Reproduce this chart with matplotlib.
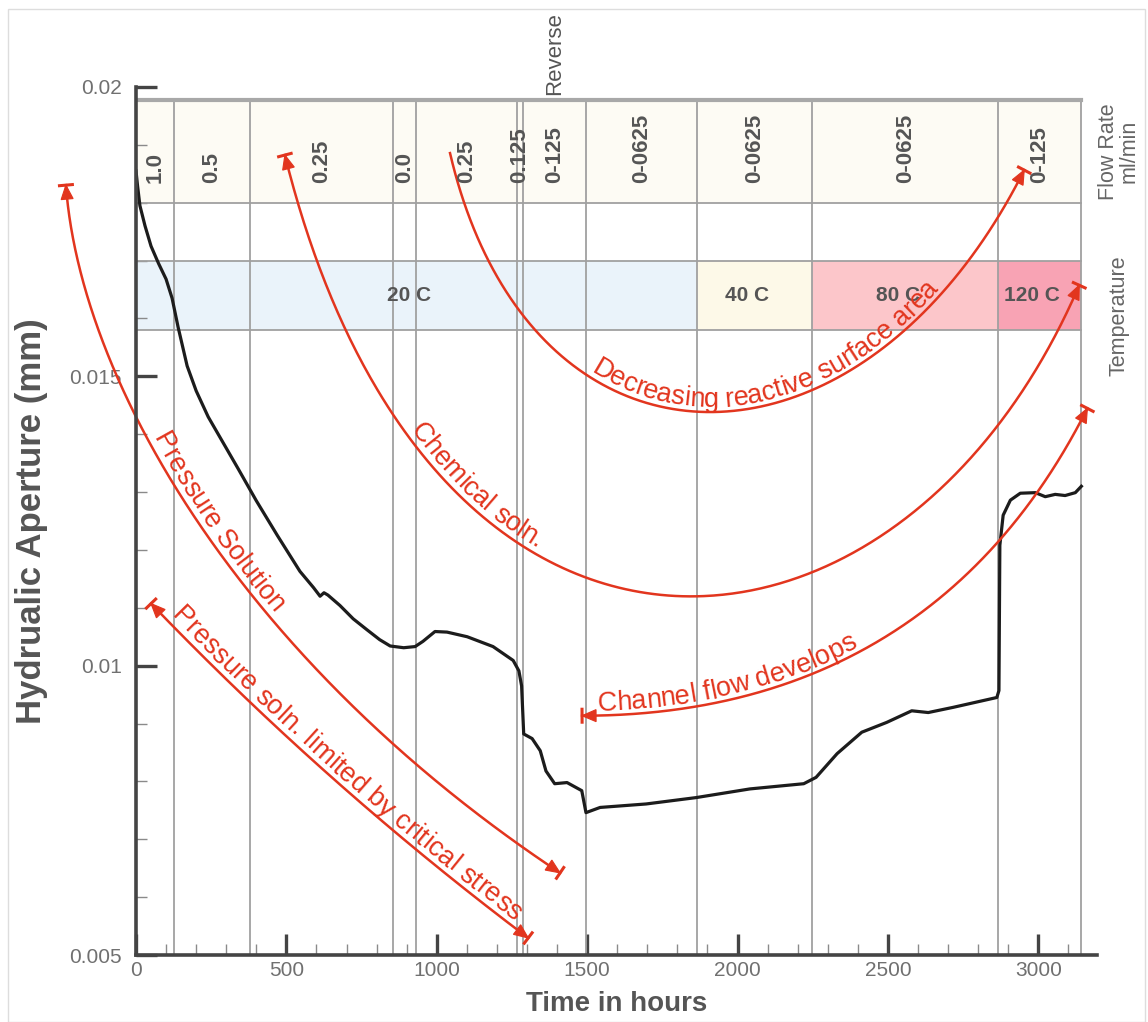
import matplotlib
matplotlib.use("Agg")
import matplotlib.pyplot as plt
import numpy as np
from matplotlib.patches import Rectangle, Polygon
from matplotlib.font_manager import FontProperties
from matplotlib.ticker import MultipleLocator, FixedLocator, FixedFormatter

plt.rcParams["font.family"] = ["Liberation Sans", "DejaVu Sans"]

# hydraulic aperture record (hours, mm)
hours = [0, 5, 13, 30, 50, 75, 100, 120, 140, 170, 200, 240, 290, 340, 400,
         470, 545, 590, 612, 625, 638, 678, 722, 768, 810, 845, 890, 928, 954,
         994, 1034, 1101, 1187, 1254, 1273, 1282, 1289, 1317, 1344, 1363, 1392,
         1433, 1482, 1496, 1543, 1696, 1862, 2041, 2220, 2261, 2331, 2413,
         2496, 2579, 2634, 2717, 2862, 2869, 2872, 2883, 2907, 2940, 2990,
         3023, 3056, 3089, 3123, 3143]
aperture = [0.01855, 0.01830, 0.01795, 0.01760, 0.01725, 0.01695, 0.01668,
            0.01635, 0.01585, 0.01518, 0.01475, 0.01430, 0.01385, 0.01340,
            0.01285, 0.01225, 0.01163, 0.01135, 0.01120, 0.01126, 0.01122,
            0.01104, 0.01081, 0.01062, 0.01045, 0.01034, 0.01031, 0.01033,
            0.01042, 0.01059, 0.01058, 0.01050, 0.01033, 0.01009, 0.00991,
            0.00965, 0.00882, 0.00874, 0.00853, 0.00818, 0.00796, 0.00798,
            0.00784, 0.00746, 0.00755, 0.00761, 0.00772, 0.00787, 0.00796,
            0.00807, 0.00848, 0.00885, 0.00902, 0.00922, 0.00919, 0.00928,
            0.00945, 0.00957, 0.01208, 0.01260, 0.01286, 0.01298, 0.01299,
            0.01292, 0.01296, 0.01294, 0.01299, 0.01310]

# flow-rate schedule, ml/min
flow_edges = [0, 126, 379, 855, 931, 1267, 1287, 1496, 1866, 2248, 2867, 3143]
flow_labels = ["1.0", "0.5", "0.25", "0.0", "0.25", "0.125", "0-125",
               "0-0625", "0-0625", "0-0625", "0-125"]

# temperature schedule
temp_edges = [0, 1866, 2248, 2867, 3143]
temp_labels = ["20 C", "40 C", "80 C", "120 C"]

y_ticks = [0.005, 0.01, 0.015, 0.02]
y_ticklabels = ["0.005", "0.01", "0.015", "0.02"]

RED = "#e2351e"
GREY = "#666666"
temp_colors = ["#eaf3fa", "#fdf9e8", "#fcc6ca", "#f8a3b4"]

# band limits (aperture units)
FLOW_TOP, FLOW_BOT = 0.01978, 0.0180
TEMP_TOP, TEMP_BOT = 0.0170, 0.0158

fig = plt.figure(figsize=(11.48, 10.22), dpi=100)
ax = fig.add_axes([136 / 1148, 1 - 955 / 1022, 961 / 1148, 868 / 1022])
ax.set_xlim(0, 3195)
ax.set_ylim(0.005, 0.02)

# outer frame
fig.patches.append(Rectangle((8 / 1148, 0), 1137 / 1148, 1 - 9 / 1022,
                             transform=fig.transFigure, fill=False,
                             edgecolor="#dddddd", lw=1))

right = flow_edges[-1]
# flow and temperature bands
ax.add_patch(Rectangle((0, FLOW_BOT), right, FLOW_TOP - FLOW_BOT,
                       facecolor="#fdfbf4", edgecolor="none", zorder=1))
for i, lab in enumerate(temp_labels):
    x0, x1 = temp_edges[i], temp_edges[i + 1]
    ax.add_patch(Rectangle((x0, TEMP_BOT), x1 - x0, TEMP_TOP - TEMP_BOT,
                           facecolor=temp_colors[i], edgecolor="none", zorder=1))
    ax.text((x0 + x1) / 2 - 25, (TEMP_TOP + TEMP_BOT) / 2, lab, ha="center",
            va="center", fontsize=15, fontweight="bold", color="#555555",
            zorder=6)

for i, lab in enumerate(flow_labels):
    x0, x1 = flow_edges[i], flow_edges[i + 1]
    ax.text((x0 + x1) / 2, 0.01834, lab, rotation=90, ha="center",
            va="bottom", fontsize=16, fontweight="bold", color="#555555",
            zorder=6)

# grid lines of the schedule table
for x in flow_edges[1:]:
    ax.plot([x, x], [0.005, FLOW_TOP], color="#a0a0a0", lw=1.3, zorder=2)
for y in [FLOW_BOT, TEMP_TOP, TEMP_BOT]:
    ax.plot([0, right], [y, y], color="#a0a0a0", lw=1.3, zorder=2)
ax.plot([0, right], [FLOW_TOP, FLOW_TOP], color="#a8a8a8", lw=3, zorder=2)

ax.text((flow_edges[6] + flow_edges[7]) / 2, 0.01986, "Reverse",
        rotation=90, ha="center", va="bottom", fontsize=16, color="#555555")
ax.text(3268, (FLOW_TOP + FLOW_BOT) / 2, "Flow Rate\nml/min", rotation=90,
        ha="center", va="center", multialignment="center", fontsize=15.5,
        color=GREY, linespacing=0.95)
ax.text(3268, 0.01604, "Temperature", rotation=90, ha="center", va="center",
        fontsize=15.5, color=GREY)

# aperture curve
ax.plot(hours, aperture, color="#1c1c1c", lw=2.3, zorder=4,
        solid_joinstyle="round")

# axes styling
for side in ["top", "right"]:
    ax.spines[side].set_visible(False)
for side in ["left", "bottom"]:
    ax.spines[side].set_color("#444444")
    ax.spines[side].set_linewidth(2.6)
    ax.spines[side].set_zorder(7)
ax.set_facecolor("white")
ax.yaxis.set_major_locator(FixedLocator(y_ticks))
ax.yaxis.set_major_formatter(FixedFormatter(y_ticklabels))
ax.yaxis.set_minor_locator(MultipleLocator(0.001))
ax.xaxis.set_major_locator(MultipleLocator(500))
ax.xaxis.set_minor_locator(MultipleLocator(100))
ax.tick_params(which="major", direction="in", length=15, width=2.4,
               color="#444444", labelsize=15, labelcolor="#707070")
ax.tick_params(which="minor", direction="in", length=8, width=1,
               color="#8a8a8a")
ax.tick_params(axis="y", which="major", pad=10)
ax.tick_params(axis="x", which="major", pad=4)
ax.set_xlabel("Time in hours", fontsize=20, fontweight="bold",
              color="#555555", labelpad=8)
ax.set_ylabel("Hydrualic Aperture (mm)", fontsize=25, fontweight="bold",
              color="#555555")
ax.yaxis.set_label_coords(-0.092, 0.5)

# process annotations: cubic Bezier arcs in data units
arcs = [
    dict(text="Pressure soln. limited by critical stress",
         pts=[(50, 0.011073), (438, 0.008974), (856, 0.007047), (1304, 0.005294)],
         heads=(True, True), start=0.045),
    dict(text="Pressure Solution",
         pts=[(-233, 0.018304), (-186, 0.014931), (346, 0.010087), (1410, 0.006419)],
         heads=(True, True), start=0.31),
    dict(text="Chemical soln.",
         pts=[(495, 0.018824), (978, 0.008702), (2541, 0.009394), (3136, 0.016574)],
         heads=(True, True), start=0.26),
    dict(text="Decreasing reactive surface area",
         pts=[(1044, 0.018858), (1310, 0.012941), (2408, 0.012941), (2953, 0.018564)],
         heads=(False, True), start=0.33),
    dict(text="Channel flow develops",
         pts=[(1483, 0.009135), (2042, 0.009135), (2740, 0.010087), (3163, 0.014446)],
         heads=(True, True), start=0.025),
]

to_disp = ax.transData.transform
to_data = ax.transData.inverted().transform
renderer = fig.canvas.get_renderer()
fp = FontProperties(family=["Liberation Sans", "DejaVu Sans"], size=19.5)


def bezier(p, n=400):
    t = np.linspace(0, 1, n)[:, None]
    return ((1 - t) ** 3 * p[0] + 3 * (1 - t) ** 2 * t * p[1]
            + 3 * (1 - t) * t ** 2 * p[2] + t ** 3 * p[3])


def arrow_end(tip, back):
    d = tip - back
    d /= np.hypot(*d)
    n = np.array([-d[1], d[0]])
    tri = np.array([tip, tip - 14 * d + 6 * n, tip - 14 * d - 6 * n])
    ax.add_patch(Polygon(to_data(tri), closed=True, facecolor=RED,
                         edgecolor=RED, lw=0.8, zorder=5, clip_on=False))
    bar = to_data(np.array([tip + 8 * n, tip - 8 * n]))
    ax.plot(bar[:, 0], bar[:, 1], color=RED, lw=2.2, zorder=5, clip_on=False,
            solid_capstyle="butt")


def text_width(s):
    w, _, _ = renderer.get_text_width_height_descent(s + "l", fp, ismath=False)
    w0, _, _ = renderer.get_text_width_height_descent("l", fp, ismath=False)
    return w - w0


for arc in arcs:
    ctrl = to_disp(np.array(arc["pts"], dtype=float))
    path = bezier(ctrl)
    line = to_data(path)
    ax.plot(line[:, 0], line[:, 1], color=RED, lw=1.8, zorder=5,
            clip_on=False)
    if arc["heads"][0]:
        arrow_end(path[0], path[8])
    if arc["heads"][1]:
        arrow_end(path[-1], path[-9])

    # lay the label along the arc, one glyph at a time
    seg = np.diff(path, axis=0)
    cum = np.concatenate([[0], np.cumsum(np.hypot(seg[:, 0], seg[:, 1]))])
    ang = np.unwrap(np.arctan2(seg[:, 1], seg[:, 0]))
    mid = (cum[:-1] + cum[1:]) / 2
    s0 = arc["start"] * cum[-1]
    txt = arc["text"]
    offs = [text_width(txt[:i]) for i in range(len(txt) + 1)]
    for i, ch in enumerate(txt):
        if ch == " ":
            continue
        s = s0 + (offs[i] + offs[i + 1]) / 2
        x = np.interp(s, cum, path[:, 0])
        y = np.interp(s, cum, path[:, 1])
        a = np.interp(s, mid, ang)
        pos = np.array([x - 5 * np.sin(a), y + 5 * np.cos(a)])
        px, py = to_data(pos[None, :])[0]
        ax.text(px, py, ch, fontproperties=fp, color=RED, rotation=np.degrees(a),
                rotation_mode="anchor", ha="center", va="baseline", zorder=6)

fig.savefig("out.png", dpi=100)
